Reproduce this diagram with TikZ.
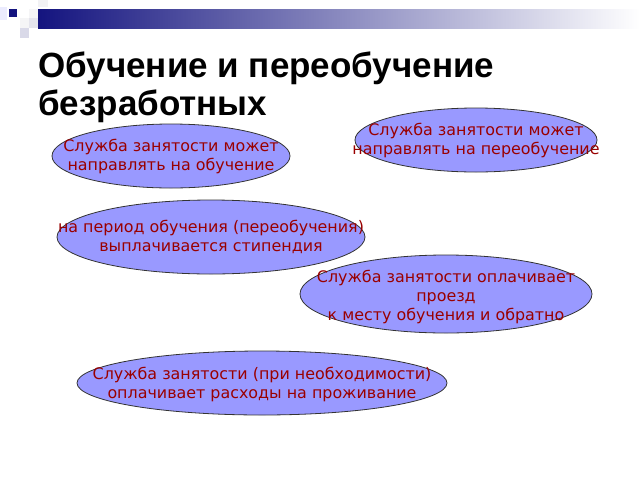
\documentclass[tikz,border=0pt]{standalone}
\usepackage{fontspec}
\setmainfont{DejaVu Sans}
\newfontfamily\titlefont{Liberation Sans}
\usepackage{xcolor}
\usetikzlibrary{shapes.geometric}

\definecolor{ovalfill}{HTML}{9999FF}
\definecolor{ovaltext}{HTML}{990000}
\definecolor{bannerblue}{HTML}{14147F}

\begin{document}
\begin{tikzpicture}[x=1pt,y=-1pt]
			\tikzstyle{oval}=[ellipse,draw=black!80,fill=ovalfill,line width=0.8pt,inner sep=0pt]
			\tikzstyle{caption}=[align=center,text=ovaltext,inner sep=0pt,font=\fontsize{15.9}{19}\selectfont]
			\tikzset{heading/.style = {anchor=base west,align=left,inner sep=0pt,font=\titlefont\bfseries\fontsize{35}{38}\selectfont}}
			
			\useasboundingbox (0,0) rectangle (640,480);
			
			% banner and squares
			\shade[left color=bannerblue,right color=white] (38,9) rectangle (640,28);
			\fill[bannerblue] (9,9) rectangle (17,17);
			\fill[black!4!blue!8] (0,7) rectangle (7,20);
			\fill[blue!15!black!5] (38,0) rectangle (48,7);
			\fill[blue!12!black!4] (29,9) rectangle (38,18);
			\fill[blue!30!black!10] (29,18) rectangle (38,28);
			\fill[blue!12!black!4] (20,18) rectangle (29,28);
			\fill[blue!40!black!15] (20,28) rectangle (29,38);
			
			\node[heading](title) at (38,115) {Обучение и переобучение\\безработных};
			
			\node[oval, minimum width=238pt, minimum height=64pt](obuch) at (171,156) {};
			\node[oval, minimum width=242pt, minimum height=64pt](pereob) at (476,140) {};
			\node[oval, minimum width=308pt, minimum height=74pt](stip) at (211,237) {};
			\node[oval, minimum width=292pt, minimum height=78pt](proezd) at (446,294) {};
			\node[oval, minimum width=370pt, minimum height=64pt](zhile) at (262,383) {};
			
			\node[caption](obuch-t) at (obuch) {Служба занятости может\\направлять на обучение};
			\node[caption](pereob-t) at (pereob) {Служба занятости может\\направлять на переобучение};
			\node[caption](stip-t) at (stip) {на период обучения (переобучения)\\выплачивается стипендия};
			\node[caption, yshift=-3pt](proezd-t) at (proezd) {Служба занятости оплачивает\\проезд\\к месту обучения и обратно};
			\node[caption, yshift=-1pt](zhile-t) at (zhile) {Служба занятости (при необходимости)\\оплачивает расходы на проживание};
\end{tikzpicture}
\end{document}
